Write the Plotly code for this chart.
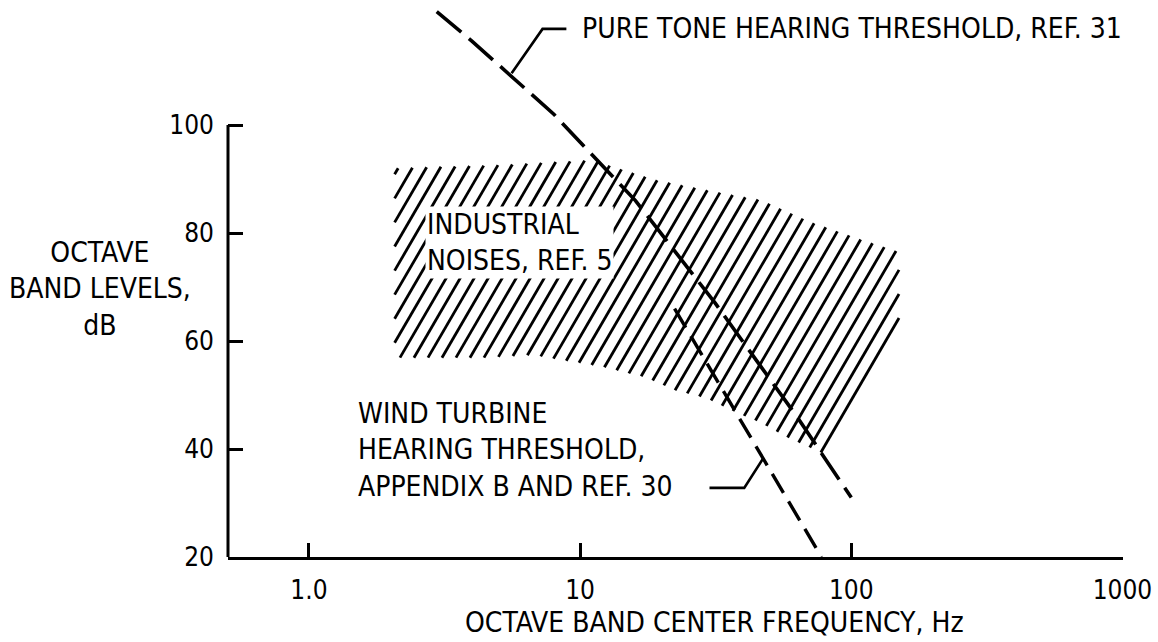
import numpy as np
import plotly.graph_objects as go

# Pure-tone hearing threshold, Ref. 31 (Hz, dB)
pure_tone_hz = [2.96, 4.0, 8.0, 16.0, 31.5, 63.0, 100.0]
pure_tone_db = [121.0, 115.5, 102.0, 86.0, 67.0, 46.0, 31.0]

# Wind turbine hearing threshold, Appendix B and Ref. 30
wind_hz = [22.3, 77.6]
wind_db = [66.0, 20.0]

# Industrial noise band, Ref. 5: upper and lower envelopes
band_top_hz = [2.07, 5.05, 11.1, 19.1, 31.8, 46.6, 71.2, 110.0, 150.0]
band_top_db = [92.0, 92.6, 93.5, 89.8, 87.6, 86.1, 82.0, 78.7, 76.5]
band_bot_hz = [2.07, 4.37, 6.68, 12.1, 17.3, 22.3, 29.2, 37.7, 46.6, 57.6, 77.5, 150.0]
band_bot_db = [56.9, 56.9, 57.4, 55.2, 53.3, 50.9, 49.4, 46.7, 44.8, 42.2, 39.3, 64.1]

# Axis ticks
x_tick_vals = [1, 10, 100, 1000]
x_tick_text = ["1.0", "10", "100", "1000"]
y_tick_vals = [20, 40, 60, 80, 100]

FONT = "DejaVu Sans Condensed, Liberation Sans Narrow, sans-serif"
INK = "black"
TEXT_SIZE = 28
TICK_SIZE = 26

W, H = 1158, 642
M_L, M_R, M_T, M_B = 228, 35, 0, 85
PLOT_W = W - M_L - M_R
PLOT_H = H - M_T - M_B
X_RANGE = [np.log10(0.503), 3.002]
Y_RANGE = [20.0, 123.15]
px_per_dec = PLOT_W / (X_RANGE[1] - X_RANGE[0])
px_per_db = PLOT_H / (Y_RANGE[1] - Y_RANGE[0])

# Hatching of the industrial band: parallel strokes at a fixed screen angle,
# clipped to the region between the two envelopes.
HATCH_RISE = 1.72   # screen rise per unit run
HATCH_GAP = 14.0    # horizontal screen distance between strokes (px)

u_top = np.log10(band_top_hz)
u_bot = np.log10(band_bot_hz)
u_grid = np.linspace(u_top[0], u_top[-1], 6000)
hi = np.interp(u_grid, u_top, band_top_db)
lo = np.interp(u_grid, u_bot, band_bot_db)
sx = u_grid * px_per_dec
k_top = hi * px_per_db - HATCH_RISE * sx
k_bot = lo * px_per_db - HATCH_RISE * sx
k_min, k_max = k_bot.min(), k_top.max()

hatch_x, hatch_y = [], []
for k in np.arange(k_min + 1.0, k_max, HATCH_GAP * HATCH_RISE):
    db_line = (HATCH_RISE * sx + k) / px_per_db
    inside = np.where((db_line >= lo - 1e-9) & (db_line <= hi + 1e-9))[0]
    if inside.size < 2:
        continue
    i0, i1 = inside[0], inside[-1]
    hatch_x += [10 ** u_grid[i0], 10 ** u_grid[i1], None]
    hatch_y += [db_line[i0], db_line[i1], None]

fig = go.Figure()

fig.add_trace(go.Scatter(
    x=hatch_x, y=hatch_y, mode="lines",
    line=dict(color=INK, width=2.8), hoverinfo="skip"))

fig.add_trace(go.Scatter(
    x=pure_tone_hz, y=pure_tone_db, mode="lines",
    line=dict(color=INK, width=3.6, dash="32px,10px"), hoverinfo="skip"))

fig.add_trace(go.Scatter(
    x=wind_hz, y=wind_db, mode="lines",
    line=dict(color=INK, width=3.4, dash="22px,10px"), hoverinfo="skip"))

# Leader lines from the labels to the curves
fig.add_trace(go.Scatter(
    x=[8.9, 7.27, 5.59], y=[117.8, 117.8, 109.6], mode="lines",
    line=dict(color=INK, width=2.6), hoverinfo="skip"))
fig.add_trace(go.Scatter(
    x=[30.0, 40.3, 47.5], y=[32.8, 32.8, 38.4], mode="lines",
    line=dict(color=INK, width=2.6), hoverinfo="skip"))


def px_to_paper(px, py):
    return (px - M_L) / PLOT_W, (H - M_B - py) / PLOT_H


def label(text, px, py, xanchor="left", align="left", bg=None, size=TEXT_SIZE):
    x, y = px_to_paper(px, py)
    fig.add_annotation(
        x=x, y=y, xref="paper", yref="paper", text=text, showarrow=False,
        xanchor=xanchor, yanchor="middle", align=align,
        font=dict(family=FONT, size=size, color=INK),
        bgcolor=bg, borderpad=1)


label("PURE TONE HEARING THRESHOLD, REF. 31", 580, 29)
label("INDUSTRIAL<br>NOISES, REF. 5", 425, 242, bg="white")
label("WIND TURBINE<br>HEARING THRESHOLD,<br>APPENDIX B AND REF. 30", 356, 450)
label("OCTAVE<br>BAND LEVELS,<br>dB", 100, 289, xanchor="center", align="center")
label("OCTAVE BAND CENTER FREQUENCY, Hz", 714, 622, xanchor="center", align="center")

# Vertical axis line spans only the labelled 20-100 dB range
fig.add_shape(type="line", xref="paper", yref="y", x0=0, x1=0, y0=20, y1=100,
              line=dict(color=INK, width=3))

fig.update_layout(
    width=W, height=H,
    margin=dict(l=M_L, r=M_R, t=M_T, b=M_B),
    paper_bgcolor="white", plot_bgcolor="white",
    showlegend=False,
    font=dict(family=FONT, size=TEXT_SIZE, color=INK),
)
fig.update_xaxes(
    type="log", range=X_RANGE,
    tickvals=x_tick_vals, ticktext=x_tick_text,
    ticks="inside", ticklen=14, tickwidth=2.6, tickcolor=INK,
    showline=True, linewidth=3, linecolor=INK,
    showgrid=False, zeroline=False,
    ticklabelstandoff=8,
    tickfont=dict(family=FONT, size=TICK_SIZE, color=INK),
)
fig.update_yaxes(
    range=Y_RANGE, tickvals=y_tick_vals,
    ticks="inside", ticklen=15, tickwidth=2.6, tickcolor=INK,
    showline=False, showgrid=False, zeroline=False,
    ticklabelstandoff=13,
    tickfont=dict(family=FONT, size=TICK_SIZE, color=INK),
)

fig.write_html("out.html")
